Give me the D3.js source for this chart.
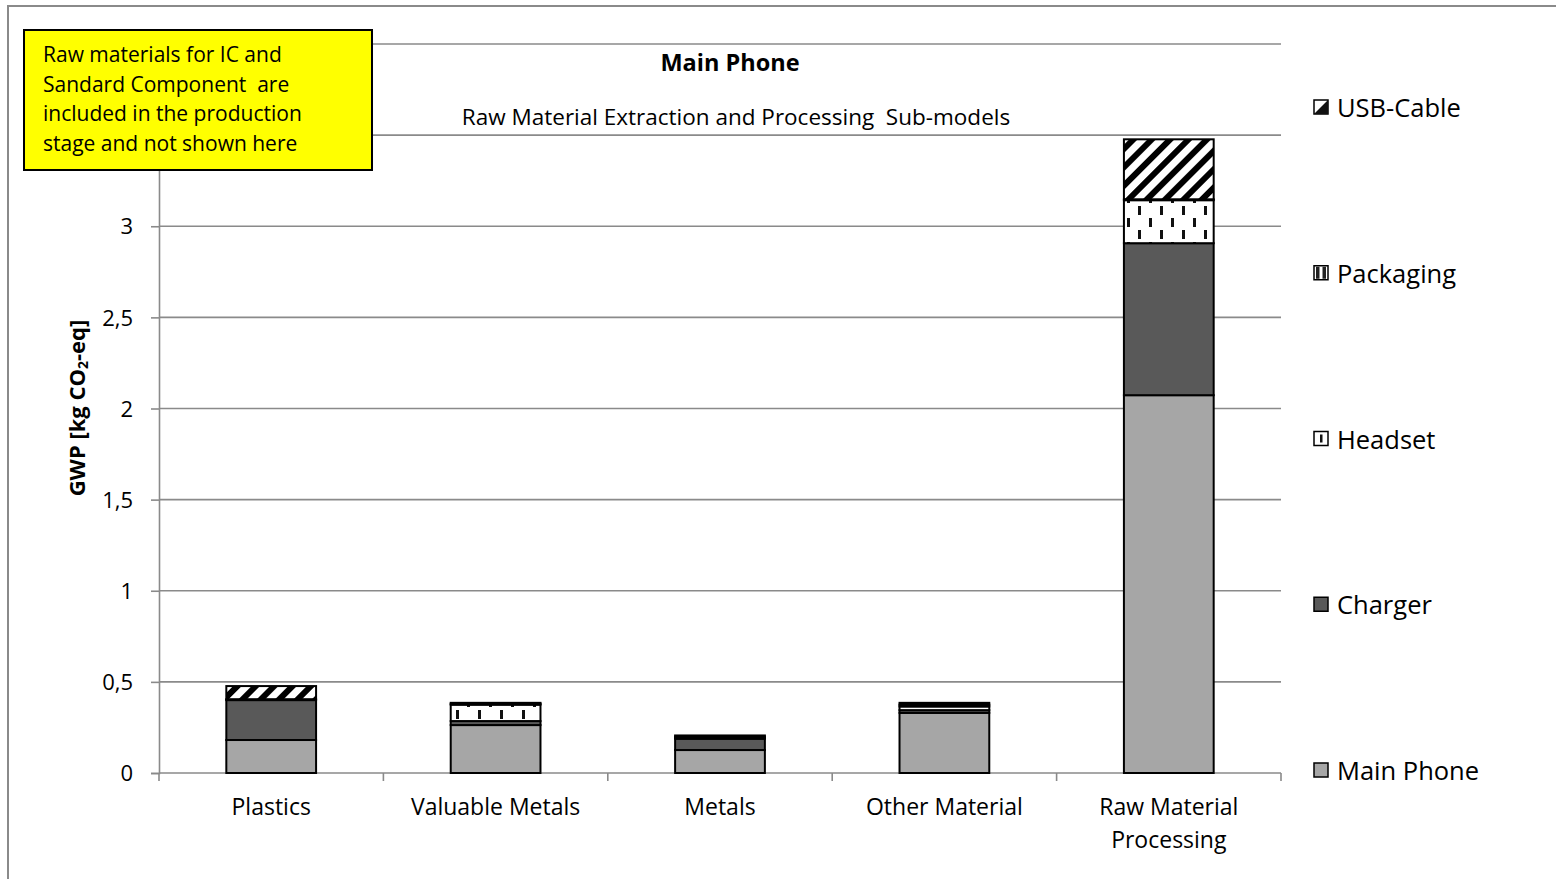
<!DOCTYPE html>
<html><head><meta charset="utf-8">
<script src="https://cdn.jsdelivr.net/npm/d3@7"></script>
<style>
html,body{margin:0;padding:0;background:#fff;}
svg text{font-family:"Open Sans",sans-serif;fill:#000;white-space:pre;}
</style></head>
<body>
<svg id="chart" width="1556" height="879"></svg>
<script>
const categories = ["Plastics","Valuable Metals","Metals","Other Material","Raw Material Processing"];
const seriesNames = ["Main Phone","Charger","Headset","Packaging","USB-Cable"];
const mainPhone = [0.181, 0.263, 0.126, 0.330, 2.073];
const charger   = [0.219, 0.022, 0.062, 0.015, 0.834];
const headset   = [0.005, 0.090, 0.006, 0.020, 0.236];
const packaging = [0.000, 0.005, 0.006, 0.010, 0.005];
const usbCable  = [0.072, 0.005, 0.006, 0.010, 0.329];
const yTicks = [0, 0.5, 1, 1.5, 2, 2.5, 3, 3.5, 4];
const yTickLabels = ["0","0,5","1","1,5","2","2,5","3","",""];
const noteLines = ["Raw materials for IC and","Sandard Component  are","included in the production","stage and not shown here"];

const seriesValues = [mainPhone, charger, headset, packaging, usbCable];
const rows = categories.map((c,i)=>{const r={cat:c}; seriesNames.forEach((s,j)=>r[s]=seriesValues[j][i]); return r;});
const stack = d3.stack().keys(seriesNames)(rows);

const svg = d3.select("#chart");
const defs = svg.append("defs");
// patterns
const pUsb = defs.append("pattern").attr("id","pUsb").attr("patternUnits","userSpaceOnUse")
  .attr("width",13).attr("height",13).attr("patternTransform","rotate(45)");
pUsb.append("rect").attr("width",13).attr("height",13).attr("fill","#fff");
pUsb.append("rect").attr("width",6).attr("height",13).attr("fill","#000");
const pHead = defs.append("pattern").attr("id","pHead").attr("patternUnits","userSpaceOnUse")
  .attr("width",22).attr("height",24);
pHead.append("rect").attr("width",22).attr("height",24).attr("fill","#fff");
pHead.append("rect").attr("x",5).attr("y",2).attr("width",3).attr("height",9).attr("fill","#111");
pHead.append("rect").attr("x",16).attr("y",14).attr("width",3).attr("height",9).attr("fill","#111");
const pPack = defs.append("pattern").attr("id","pPack").attr("patternUnits","userSpaceOnUse")
  .attr("width",8).attr("height",8);
pPack.append("rect").attr("width",8).attr("height",8).attr("fill","#fff");
pPack.append("rect").attr("x",2).attr("width",3).attr("height",8).attr("fill","#222");

const fills = {"Main Phone":"#a6a6a6","Charger":"#595959","Headset":"url(#pHead)","Packaging":"url(#pPack)","USB-Cable":"url(#pUsb)"};

// outer frame
svg.append("path").attr("d","M8,879 L8,6 L1556,6").attr("fill","none").attr("stroke","#8a8a8a").attr("stroke-width",2);

const m = {left:159, right:1281, top:44, bottom:773};
const x = d3.scaleBand().domain(categories).range([m.left,m.right]).paddingInner(0.6).paddingOuter(0.3);
const y = d3.scaleLinear().domain([0,4]).range([m.bottom,m.top]);

// gridlines
svg.append("g").selectAll("line").data(yTicks.filter(t=>t>0)).join("line")
  .attr("x1",m.left).attr("x2",m.right).attr("y1",d=>y(d)).attr("y2",d=>y(d))
  .attr("stroke","#8a8a8a").attr("stroke-width",1.6);

// y axis
const yAxis = svg.append("g").attr("transform",`translate(${m.left},0)`)
  .call(d3.axisLeft(y).tickValues(yTicks).tickSize(8).tickPadding(18).tickFormat((d,i)=>yTickLabels[i]));
yAxis.select(".domain").attr("stroke","#8a8a8a").attr("stroke-width",1.6);
yAxis.selectAll(".tick line").attr("stroke","#8a8a8a").attr("stroke-width",1.6);
yAxis.selectAll(".tick text").attr("font-size",22).attr("font-family","Open Sans").attr("dy","0.35em");

// x axis
const step = x.step();
const bounds = d3.range(categories.length+1).map(i=>m.left + i*step);
svg.append("line").attr("x1",m.left).attr("x2",m.right).attr("y1",m.bottom).attr("y2",m.bottom)
  .attr("stroke","#8a8a8a").attr("stroke-width",1.6);
svg.append("g").selectAll("line").data(bounds).join("line")
  .attr("x1",d=>d).attr("x2",d=>d).attr("y1",m.bottom).attr("y2",m.bottom+8)
  .attr("stroke","#8a8a8a").attr("stroke-width",1.6);
const catLabels = svg.append("g").selectAll("text").data(categories).join("text")
  .attr("x",d=>x(d)+x.bandwidth()/2).attr("y",815).attr("text-anchor","middle").attr("font-size",23);
catLabels.each(function(d){
  const t = d3.select(this);
  if(d==="Raw Material Processing"){
    t.append("tspan").attr("x",x(d)+x.bandwidth()/2).text("Raw Material");
    t.append("tspan").attr("x",x(d)+x.bandwidth()/2).attr("dy",33).text("Processing");
  } else t.text(d);
});

// bars
const bars = svg.append("g");
stack.forEach(layer=>{
  bars.append("g").selectAll("rect").data(layer).join("rect")
    .attr("x",d=>x(d.data.cat)).attr("width",x.bandwidth())
    .attr("y",d=>y(d[1])).attr("height",d=>Math.max(0,y(d[0])-y(d[1])))
    .attr("fill",fills[layer.key]).attr("stroke","#000").attr("stroke-width",2);
});

// title
svg.append("text").attr("x",730).attr("y",71).attr("text-anchor","middle").attr("font-size",23.5).attr("font-weight","bold").text("Main Phone");
svg.append("text").attr("x",736).attr("y",125).attr("text-anchor","middle").attr("font-size",22.5).text("Raw Material Extraction and Processing  Sub-models");

// y axis title
svg.append("text").attr("transform","translate(85,408) rotate(-90)").attr("text-anchor","middle")
  .attr("font-size",22).attr("font-weight","bold")
  .html('GWP [kg CO<tspan font-size="14" dy="3">2</tspan><tspan dy="-3">-eq]</tspan>');

// legend
const legendY = d3.scalePoint().domain(seriesNames).range([771,108]);
const lg = svg.append("g").selectAll("g").data(seriesNames).join("g")
  .attr("transform",d=>`translate(1314,${legendY(d)})`);
lg.append("rect").attr("x",0).attr("y",-8).attr("width",14).attr("height",14)
  .attr("fill",d=>d==="Headset"?"#fff":d==="Packaging"?"#fff":d==="USB-Cable"?"#fff":fills[d])
  .attr("stroke","#000").attr("stroke-width",1.5);
lg.filter(d=>d==="Headset").append("rect").attr("x",6).attr("y",-5).attr("width",2.5).attr("height",8).attr("fill","#111");
lg.filter(d=>d==="Packaging").each(function(){
  const g=d3.select(this);
  g.append("rect").attr("x",2).attr("y",-7).attr("width",3.5).attr("height",12).attr("fill","#222");
  g.append("rect").attr("x",8.5).attr("y",-7).attr("width",3.5).attr("height",12).attr("fill","#222");
});
lg.filter(d=>d==="USB-Cable").append("path").attr("d","M0,6 L14,-8 L14,6 Z").attr("fill","#111");
lg.append("text").attr("x",23).attr("y",9).attr("font-size",25.5).text(d=>d);

// note box
const nb = svg.append("g");
nb.append("rect").attr("x",24).attr("y",30).attr("width",348).attr("height",140)
  .attr("fill","#ffff00").attr("stroke","#000").attr("stroke-width",2);
nb.selectAll("text").data(noteLines).join("text").attr("x",43).attr("y",(d,i)=>62+i*29.5)
  .attr("font-size",21).text(d=>d);
</script>
</body></html>
